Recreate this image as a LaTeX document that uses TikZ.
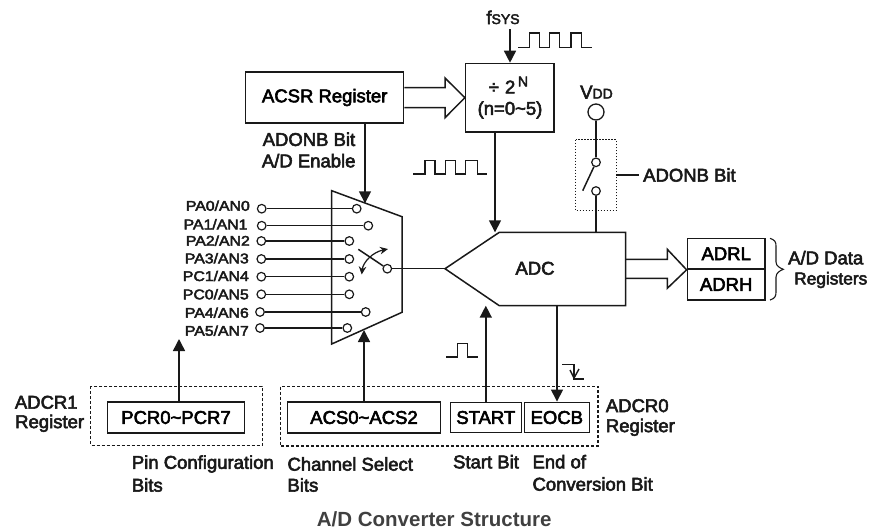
\documentclass[tikz,border=0pt]{standalone}
\usepackage{fontspec}
\setmainfont{Liberation Sans}[FakeBold=3]
\newfontfamily\boldf{Liberation Sans Bold}
\usetikzlibrary{arrows.meta,calc}
\newcommand{\fsz}[1]{\fontsize{#1}{#1}\selectfont}
\tikzset{
  ln/.style={line width=1.5pt,black!90},
  arr/.style={ln,-{Triangle[width=12pt,length=12pt]}},
  bx/.style={draw=black!90,line width=1.5pt,inner sep=0pt,font=\fsz{18.5}},
  txt/.style={inner sep=0pt,font=\fsz{18.5},text=black!90},
  ltxt/.style={txt,anchor=west},
  pa/.style={inner sep=0pt,font=\fsz{14},text=black!90,anchor=east},
  pin/.style={circle,draw=black!90,line width=1.2pt,minimum size=8.6pt,inner sep=0pt,fill=white},
  dbox/.style={draw=black!90,line width=1.1pt,dash pattern=on 3pt off 2pt},
  thin/.style={line width=1.1pt,black!90},
}
\begin{document}
\begin{tikzpicture}[x=1pt,y=-1pt]
\useasboundingbox (0,0) rectangle (869,531);
% boxes
\node[bx,minimum width=158pt,minimum height=51pt] (acsr) at (324.7,97.5) {ACSR Register};
\node[bx,minimum width=88.3pt,minimum height=68.5pt] (div) at (509.8,97.7) {};
\node[txt] (divt) at (502,87) {÷\,\,2};
\node[txt,font=\fsz{14}] (divn) at (523,81.5) {N};
\node[txt] (divb) at (510,110) {(n=0\textasciitilde5)};
\node[bx,minimum width=136.6pt,minimum height=31pt] (pcr) at (176,417.5) {PCR0\textasciitilde PCR7};
\node[bx,minimum width=153.4pt,minimum height=30.7pt] (acs) at (364,417.5) {ACS0\textasciitilde ACS2};
\node[bx,minimum width=71pt,minimum height=30.4pt] (start) at (485.8,417.5) {START};
\node[bx,minimum width=65pt,minimum height=30.4pt] (eocb) at (556.8,417.5) {EOCB};
\node[bx,minimum width=77.7pt,minimum height=30.7pt] (adrl) at (726.2,253.7) {ADRL};
\node[bx,minimum width=77.7pt,minimum height=30.7pt] (adrh) at (726.2,284.4) {ADRH};
% dashed frames
\draw[dbox] (90.7,386.3) rectangle (262.3,445.5);
\draw[dbox] (280.5,386.5) rectangle (598,446);
\draw[dbox,dash pattern=on 1.6pt off 1.4pt] (575.7,139.7) rectangle (616.3,210.7);
% mux
\coordinate (mtl) at (331.7,190.7);
\coordinate (mtr) at (402,216.7);
\coordinate (mbr) at (402,312.3);
\coordinate (mbl) at (331.7,344);
\draw[ln,line join=miter] (mtl)--(mtr)--(mbr)--(mbl)--cycle;
% ADC
\coordinate (atip) at (445,268.7);
\coordinate (atl) at (499.3,232.3);
\coordinate (atr) at (625.7,232.3);
\coordinate (abr) at (625.7,305.7);
\coordinate (abl) at (499.3,305.7);
\draw[ln] (atip)--(atl)--(atr)--(abr)--(abl)--cycle;
\node[txt] (adc) at (535,268.3) {ADC};
% pins
\foreach \n/\lx/\rx/\y/\tx/\ty/\t in {0/261.7/356.7/208.7/250/205.7/{PA0/AN0},1/261.7/368.3/225.7/247.7/224.3/{PA1/AN1},2/261.3/349.3/241/250/240.7/{PA2/AN2},3/261.3/349.3/259/249/258.3/{PA3/AN3},4/261.3/349.3/276.7/249/276/{PC1/AN4},5/261.3/349.3/294.3/249/294.3/{PC0/AN5},6/260/365.7/312/249/312.7/{PA4/AN6},7/260/347.3/328/249/330.7/{PA5/AN7}}{
  \node[pin] (l\n) at (\lx,\y) {};
  \node[pin] (r\n) at (\rx,\y) {};
  \draw[ln] (l\n)--(r\n);
  \node[pa] (t\n) at (\tx,\ty) {\scalebox{1.13}[1]{\t}};
}
\node[pin] (mout) at (387.3,268.7) {};
\coordinate (swa) at (358.3,249.3);
\draw[ln] (swa)--(mout);
\draw[ln] (mout)--(atip);
\coordinate (swc) at (388,249);
\coordinate (swd) at (361.7,274.5);
\draw[line width=1.2pt,black!90,{Stealth[width=7.5pt,length=8pt]}-{Stealth[width=7.5pt,length=8pt]}] (swd) .. controls (363,262) and (373,252) .. (swc);
% arrows
\coordinate (fs) at (510,29);
\draw[arr] (fs)--(fs|-div.north);
\draw[ln,line join=miter] (acsr.east|-0,87.7)--(445,87.7)--(445,78)--(div.west)--(445,117.7)--(445,107.5)--(acsr.east|-0,107.5);
\coordinate (mtopa) at (365,203.3);
\draw[arr] (acsr.south-|mtopa)--(mtopa);
\coordinate (dbot) at (495,232.3);
\draw[arr] (div.south-|dbot)--(dbot);
\coordinate (mbota) at (364,330);
\draw[arr] (acs.north-|mbota)--(mbota);
\coordinate (pcra) at (179,339);
\draw[arr] (pcr.north-|pcra)--(pcra);
\draw[arr] (start.north)--(start.north|-abr);
\coordinate (eoct) at (557,305.7);
\draw[arr] (eoct)--(eocb.north-|eoct);
\draw[ln,line join=miter] (atr|-0,259.3)--(667.3,259.3)--(667.3,249.3)--(adrl.south west)--(667.3,288.3)--(667.3,278.3)--(atr|-0,278.3);
% Vdd
\node[circle,draw=black!90,line width=1.3pt,minimum size=16pt,inner sep=0pt] (vdd) at (596,112) {};
\node[pin] (sw1) at (596,162.3) {};
\node[pin] (sw2) at (596,191) {};
\draw[ln] (vdd)--(sw1);
\coordinate (adct) at (596,232.3);
\draw[ln] (sw2)--(adct);
\coordinate (blade) at (582.7,190.7);
\draw[ln] (sw1)--(blade);
\coordinate (fr) at (616.3,175);
\coordinate (frb) at (639,175);
\node[ltxt] (adonb) at (643,175) {ADONB Bit};
\draw[ln] (fr)--(frb);
% waves
\draw[thin] (518,47.7)-|(529.3,33)-|(539.3,47.7)-|(549.3,33)-|(559.3,47.7)-|(571,33)-|(581.7,47.7)--(591.7,47.7);
\draw[thin] (413,174)-|(425,160.7)-|(435,174)-|(445.7,160.7)-|(455.7,174)-|(465.7,160.7)-|(477.3,174)--(486.7,174);
\draw[thin] (446,357)-|(457.3,343.7)-|(467.7,357)--(478.3,357);
\draw[thin] (562.3,364.7)-|(574,379)--(584.3,379);
\draw[thin,line width=1.4pt] (570,370)--(574,378)--(579,369);
% brace
\draw[thin] (770,238.3) .. controls (775,240) and (776,242) .. (776,246)--(776,262) .. controls (776,266) and (780,268) .. (783.3,269.3) .. controls (780,270.5) and (776,273) .. (776,277)--(776,292) .. controls (776,296) and (775,298.5) .. (770,300);
% labels
\node[txt,anchor=base] (fsys) at (503,24) {f{\fsz{14}SYS}};
\node[txt,anchor=base] (vddt) at (596.5,98.5) {V{\fsz{14}DD}};
\node[ltxt] (ab) at (262.5,139.3) {ADONB Bit};
\node[ltxt] (ae) at (261.7,160.7) {A/D Enable};
\node[ltxt] (d1) at (788,257.7) {A/D Data};
\node[ltxt,font=\fsz{17.3}] (d2) at (794,280) {Registers};
\node[ltxt] (r11) at (14.7,402.3) {ADCR1};
\node[ltxt] (r12) at (15,423.3) {Register};
\node[ltxt] (r01) at (605.7,405.7) {ADCR0};
\node[ltxt] (r02) at (605.7,427.3) {Register};
\node[ltxt] (p1) at (131.7,464) {Pin Configuration};
\node[ltxt] (p2) at (131.7,485) {Bits};
\node[ltxt] (c1) at (287.3,464) {Channel Select};
\node[ltxt] (c2) at (287.3,485) {Bits};
\node[txt] (sb) at (486,461.7) {Start Bit};
\node[ltxt] (e1) at (532.3,461.7) {End of};
\node[ltxt] (e2) at (532.3,484) {Conversion Bit};
\node[txt,anchor=west,font={\fsz{20.5}\boldf},text=black!75] (title) at (316.7,519.5) {A/D Converter Structure};
\end{tikzpicture}
\end{document}
